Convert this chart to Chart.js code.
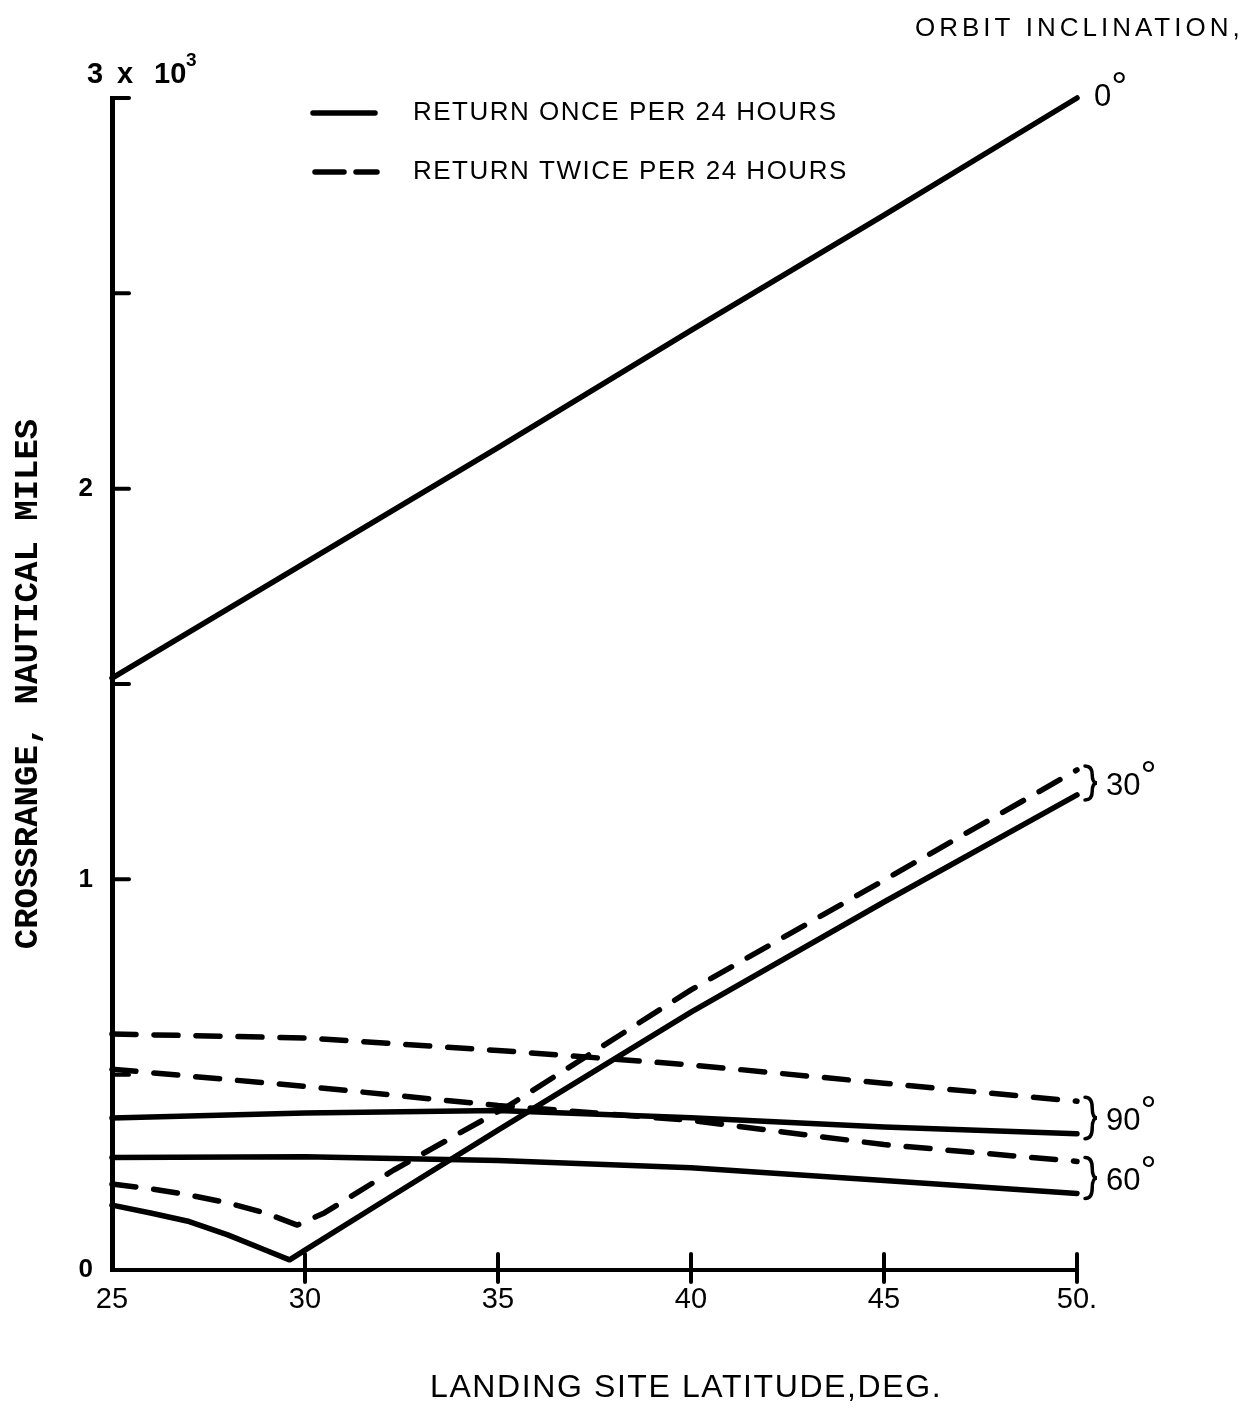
<!DOCTYPE html>
<html>
<head>
<meta charset="utf-8">
<script src="https://cdn.jsdelivr.net/npm/chart.js@4.4.1/dist/chart.umd.min.js"></script>
<style>
  html, body { margin: 0; padding: 0; background: #fff; }
  canvas { display: block; }
</style>
</head>
<body>
<canvas id="crossrangeChart" width="1248" height="1411"></canvas>
<script>
// landing site latitude (deg) vs crossrange (nautical miles)
const lat0 = [25, 30, 35, 40, 45, 50];
const once0 = [1515, 1810, 2105, 2405, 2700, 3000];

const lat30Once = [25, 26, 27, 28, 29, 29.6, 30, 32, 35, 40, 45, 50];
const once30 = [166, 146, 124, 90, 50, 26, 51, 174, 358, 660, 942, 1216];
const lat30Twice = [25, 26, 27, 28, 29, 29.8, 30.5, 32.3, 35.3, 40, 45, 50];
const twice30 = [220, 208, 192, 172, 145, 115, 146, 256, 422, 717, 998, 1280];

const lat6090 = [25, 30, 35, 40, 45, 50];
const once60 = [288, 290, 280, 262, 229, 196];
const twice60 = [514, 470, 421, 383, 321, 278];
const once90 = [389, 402, 408, 390, 366, 349];
const twice90 = [604, 594, 562, 525, 478, 432];

const latTickValues = [25, 30, 35, 40, 45, 50];
const latTickLabels = ['25', '30', '35', '40', '45', '50.'];
const crTickValues = [0, 1000, 2000];
const crTickLabels = ['0', '1', '2'];

const legendLabels = ['RETURN ONCE PER 24 HOURS', 'RETURN TWICE PER 24 HOURS'];
const inclinationLabels = ['0', '30', '60', '90'];

const ctx = document.getElementById('crossrangeChart').getContext('2d');

function toPoints(xs, ys) {
  return xs.map((x, i) => ({ x: x, y: ys[i] }));
}

function lineSet(label, xs, ys, dashed) {
  return {
    label: label,
    data: toPoints(xs, ys),
    borderColor: '#000',
    borderWidth: 5.5,
    borderDash: dashed ? [24, 18] : [],
    borderCapStyle: 'round',
    borderJoinStyle: 'round',
    pointRadius: 0,
    tension: 0,
    fill: false,
    clip: false
  };
}

function drawBrace(c, x, y1, y2, w) {
  const ym = (y1 + y2) / 2;
  c.beginPath();
  c.moveTo(x, y1);
  c.quadraticCurveTo(x + w * 0.6, y1, x + w * 0.6, (y1 + ym) / 2);
  c.quadraticCurveTo(x + w * 0.6, ym, x + w, ym);
  c.quadraticCurveTo(x + w * 0.6, ym, x + w * 0.6, (ym + y2) / 2);
  c.quadraticCurveTo(x + w * 0.6, y2, x, y2);
  c.stroke();
}

function drawDegree(c, text, x, baseline) {
  c.font = '31px "Liberation Sans"';
  c.textBaseline = 'alphabetic';
  c.textAlign = 'left';
  c.fillText(text, x, baseline);
  const w = c.measureText(text).width;
  c.font = '40px "Liberation Sans"';
  c.fillText('\u00B0', x + w, baseline - 6);
}

const annotations = {
  id: 'annotations',
  afterDraw(chart) {
    const c = chart.ctx;
    const xs = chart.scales.x;
    const ys = chart.scales.y;
    const area = chart.chartArea;
    c.save();
    c.strokeStyle = '#000';
    c.fillStyle = '#000';
    c.lineCap = 'round';

    // tick marks point into the plot
    c.lineWidth = 4;
    xs.ticks.forEach(t => {
      if (t.value === xs.min) return;
      const px = xs.getPixelForValue(t.value);
      c.beginPath();
      c.moveTo(px, xs.top - 16);
      c.lineTo(px, xs.top + 12);
      c.stroke();
    });
    ys.ticks.forEach(t => {
      if (t.value === ys.min) return;
      const py = ys.getPixelForValue(t.value);
      c.beginPath();
      c.moveTo(ys.right, py);
      c.lineTo(ys.right + 17, py);
      c.stroke();
    });

    // top of y axis: 3 x 10^3
    const topY = ys.getPixelForValue(ys.max);
    c.font = 'bold 29px "Liberation Sans"';
    c.textBaseline = 'alphabetic';
    c.fillText('3', 87, topY - 15);
    c.fillText('x', 117, topY - 15);
    c.fillText('10', 154, topY - 15);
    c.font = 'bold 19px "Liberation Sans"';
    c.fillText('3', 186, topY - 32);

    // legend
    const lx = area.left + 201;
    c.lineWidth = 5.5;
    c.beginPath();
    c.moveTo(lx, area.top + 15);
    c.lineTo(lx + 62, area.top + 15);
    c.stroke();
    c.beginPath();
    c.moveTo(lx + 2, area.top + 74);
    c.lineTo(lx + 31, area.top + 74);
    c.moveTo(lx + 43, area.top + 74);
    c.lineTo(lx + 64, area.top + 74);
    c.stroke();
    c.font = '26px "Liberation Sans"';
    c.letterSpacing = '1.5px';
    c.textBaseline = 'middle';
    c.fillText(legendLabels[0], lx + 100, area.top + 15);
    c.fillText(legendLabels[1], lx + 100, area.top + 74);

    // headers and x title
    c.font = '26px "Liberation Sans"';
    c.letterSpacing = '4px';
    c.fillText('ORBIT INCLINATION,', 915, 29);
    c.font = '32px "Liberation Sans"';
    c.letterSpacing = '1.6px';
    c.fillText('LANDING SITE LATITUDE,DEG.', 430, 1388);
    c.letterSpacing = '0px';

    // inclination labels at the right end of the curves
    const xEnd = xs.getPixelForValue(xs.max);
    const last = a => ys.getPixelForValue(a[a.length - 1]);
    drawDegree(c, inclinationLabels[0], xEnd + 17, last(once0) + 8);
    c.lineWidth = 3.5;
    const groups = [
      [inclinationLabels[1], twice30, once30],
      [inclinationLabels[3], twice90, once90],
      [inclinationLabels[2], twice60, once60]
    ];
    groups.forEach(g => {
      const y1 = last(g[1]) - 4;
      const y2 = last(g[2]) + 5;
      drawBrace(c, xEnd + 8, y1, y2, 12);
      drawDegree(c, g[0], xEnd + 29, (y1 + y2) / 2 + 12);
    });
    c.restore();
  }
};

new Chart(ctx, {
  type: 'line',
  data: {
    datasets: [
      lineSet('0 deg once', lat0, once0, false),
      lineSet('30 deg once', lat30Once, once30, false),
      lineSet('30 deg twice', lat30Twice, twice30, true),
      lineSet('60 deg once', lat6090, once60, false),
      lineSet('60 deg twice', lat6090, twice60, true),
      lineSet('90 deg once', lat6090, once90, false),
      lineSet('90 deg twice', lat6090, twice90, true)
    ]
  },
  options: {
    responsive: false,
    animation: false,
    layout: { padding: { top: 98, right: 171, bottom: 0, left: 0 } },
    plugins: { legend: { display: false }, tooltip: { enabled: false } },
    scales: {
      x: {
        type: 'linear',
        min: 25,
        max: 50,
        afterFit: scale => { scale.height = 141; },
        grid: { display: false, drawTicks: false },
        border: { display: true, color: '#000', width: 4 },
        ticks: {
          stepSize: 5,
          autoSkip: false,
          maxRotation: 0,
          padding: 13,
          color: '#000',
          font: { family: 'Liberation Sans', size: 29 },
          callback: v => {
            const i = latTickValues.indexOf(v);
            return i >= 0 ? latTickLabels[i] : '';
          }
        }
      },
      y: {
        type: 'linear',
        min: 0,
        max: 3000,
        afterFit: scale => { scale.width = 112; },
        grid: { display: false, drawTicks: false },
        border: { display: true, color: '#000', width: 5 },
        title: {
          display: true,
          text: 'CROSSRANGE, NAUTICAL MILES',
          color: '#000',
          font: { family: 'Liberation Mono', size: 34, weight: 'bold' },
          padding: { top: 8, bottom: 0 }
        },
        ticks: {
          stepSize: 500,
          padding: 19,
          color: '#000',
          font: { family: 'Liberation Sans', size: 26, weight: 'bold' },
          callback: v => {
            const i = crTickValues.indexOf(v);
            return i >= 0 ? crTickLabels[i] : '';
          }
        }
      }
    }
  },
  plugins: [annotations]
});
</script>
</body>
</html>
